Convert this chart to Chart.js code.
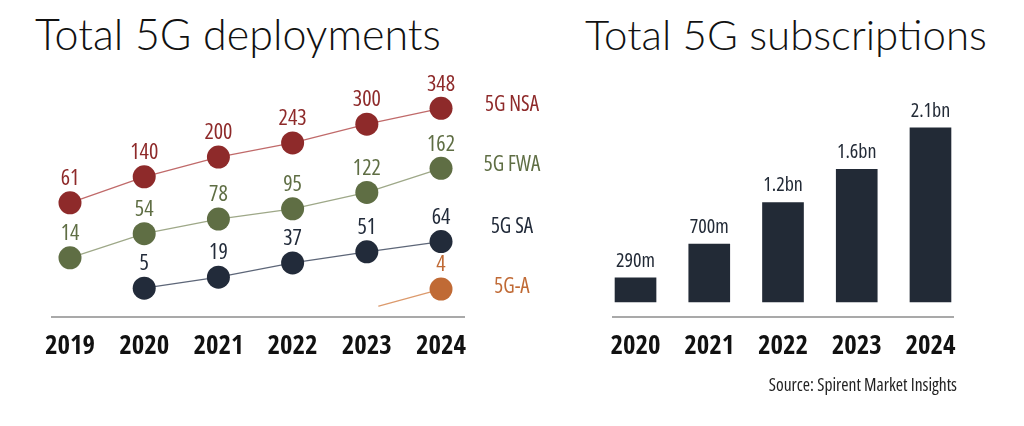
<!DOCTYPE html>
<html>
<head>
<meta charset="utf-8">
<script src="https://cdn.jsdelivr.net/npm/chart.js@4.4.0/dist/chart.umd.min.js"></script>
<style>
  body { margin: 0; background: #fff; width: 1024px; height: 426px; overflow: hidden; position: relative; }
  .title { position: absolute; top: 13px; font-family: Lato, "Open Sans", sans-serif; font-weight: 300;
           font-size: 42px; line-height: 42px; color: #111; white-space: nowrap; }
  .box { position: absolute; top: 0; width: 512px; height: 400px; }
  .tag { position: absolute; width: 80px; margin-left: -40px; text-align: center; line-height: 20px;
         font-family: "Open Sans", sans-serif; font-stretch: 75%; font-size: 21px; white-space: nowrap; }
  .src { position: absolute; right: 67px; top: 376px; font-size: 17.5px; line-height: 17px; color: #222;
         font-family: "Open Sans", sans-serif; font-stretch: 75%; white-space: nowrap; }
</style>
</head>
<body>
<div class="title" style="left:35px;font-size:43px">Total 5G deployments</div>
<div class="title" style="left:585px">Total 5G subscriptions</div>
<div class="box" style="left:0"><canvas id="deploy"></canvas></div>
<div class="box" style="left:512px"><canvas id="subs"></canvas></div>
<div class="tag" style="left:512px;top:93px;color:#8e2a2a">5G NSA</div>
<div class="tag" style="left:512px;top:153px;color:#5f6e44">5G FWA</div>
<div class="tag" style="left:512px;top:215px;color:#222b3a">5G SA</div>
<div class="tag" style="left:512px;top:275px;color:#c06a35">5G-A</div>
<div class="src">Source: Spirent Market Insights</div>
<script>
// deployments per year
var years = [2019, 2020, 2021, 2022, 2023, 2024];
var nsa = [61, 140, 200, 243, 300, 348];
var fwa = [14, 54, 78, 95, 122, 162];
var sa = [null, 5, 19, 37, 51, 64];
var adv = [null, null, null, null, 0, 4];

// subscriptions (millions)
var subYears = [2020, 2021, 2022, 2023, 2024];
var subs = [290, 700, 1200, 1600, 2100];
var subLabels = ['290m', '700m', '1.2bn', '1.6bn', '2.1bn'];

var boldNarrow = "'Open Sans Condensed', 'Roboto Condensed', 'DejaVu Sans Condensed', sans-serif";
var labelFont = "condensed 22px 'Open Sans', sans-serif";

function pts(xs, ys) {
    return xs.map(function (x, i) { return { x: x, y: ys[i] }; });
}

// axis line drawn on top of the marks
var axisLine = {
    id: 'axisLine',
    afterDatasetsDraw: function (chart) {
        var a = chart.chartArea, c = chart.ctx;
        c.save();
        c.strokeStyle = '#8c8c8c';
        c.lineWidth = 1.5;
        c.beginPath();
        c.moveTo(a.left, a.bottom);
        c.lineTo(a.right, a.bottom);
        c.stroke();
        c.restore();
    }
};

var pointLabels = {
    id: 'pointLabels',
    afterDatasetsDraw: function (chart) {
        var c = chart.ctx;
        c.save();
        c.font = labelFont;
        c.textAlign = 'center';
        c.textBaseline = 'middle';
        chart.data.datasets.forEach(function (ds, di) {
            var meta = chart.getDatasetMeta(di);
            meta.data.forEach(function (el, i) {
                var v = ds.data[i].y;
                if (v === null || v === 0) return;
                c.fillStyle = ds.labelColor;
                c.fillText(v, el.x, el.y - 24);
            });
        });
        c.restore();
    }
};

function series(data, axis, color, lineColor) {
    return {
        data: pts(years, data),
        yAxisID: axis,
        borderColor: lineColor,
        borderWidth: 1.3,
        pointRadius: 11.5,
        pointHoverRadius: 11.5,
        pointBackgroundColor: color,
        pointBorderColor: color,
        pointBorderWidth: 0,
        labelColor: color,
        tension: 0
    };
}

var a5 = series(adv, 'yAdv', '#c06a35', '#dc9a6c');
a5.pointRadius = [0, 0, 0, 0, 12, 11.5];
a5.pointBackgroundColor = ['#fff', '#fff', '#fff', '#fff', '#fff', '#c06a35'];
a5.pointBorderColor = a5.pointBackgroundColor;

var xAxis = function (min, max) {
    return {
        type: 'linear', min: min, max: max, offset: false,
        grid: { display: false, drawTicks: false, offset: false },
        border: { display: false },
        afterFit: function (scale) { scale.height = 50; },
        ticks: {
            stepSize: 1, includeBounds: false, autoSkip: false, maxRotation: 0, padding: 14,
            color: '#111', font: { family: boldNarrow, size: 27, weight: 'bold' },
            callback: function (v) { return String(v); }
        }
    };
};

new Chart(document.getElementById('deploy'), {
    type: 'line',
    data: {
        datasets: [
            series(nsa, 'yNsa', '#8e2a2a', '#c06a6a'),
            series(fwa, 'yFwa', '#5f6e44', '#9ea888'),
            series(sa, 'ySa', '#222b3a', '#5d6678'),
            a5
        ]
    },
    options: {
        responsive: true,
        maintainAspectRatio: false,
        animation: false,
        layout: { padding: { top: 60, left: 51, right: 47, bottom: 33 } },
        plugins: { legend: { display: false }, tooltip: { enabled: false } },
        scales: {
            x: xAxis(2018.744, 2024.323),
            yNsa: { display: false, min: -286, max: 495 },
            yFwa: { display: false, min: -83.8, max: 341 },
            ySa: { display: false, min: -31.5, max: 294 },
            yAdv: { display: false, min: -1.5, max: 49.2 }
        }
    },
    plugins: [axisLine, pointLabels]
});

new Chart(document.getElementById('subs'), {
    type: 'bar',
    data: {
        datasets: [{
            data: pts(subYears, subs),
            backgroundColor: '#222a36',
            barThickness: 41
        }]
    },
    options: {
        responsive: true,
        maintainAspectRatio: false,
        animation: false,
        layout: { padding: { top: 90, left: 100, right: 70, bottom: 33 } },
        plugins: { legend: { display: false }, tooltip: { enabled: false } },
        scales: {
            x: xAxis(2019.681, 2024.319),
            y: { display: false, min: -181, max: 2557 }
        }
    },
    plugins: [axisLine, {
        id: 'barLabels',
        afterDatasetsDraw: function (chart) {
            var c = chart.ctx;
            c.save();
            c.font = labelFont.replace('22px', '20px');
            c.fillStyle = '#222a36';
            c.textAlign = 'center';
            c.textBaseline = 'middle';
            chart.getDatasetMeta(0).data.forEach(function (el, i) {
                c.fillText(subLabels[i], el.x, el.y - 17);
            });
            c.restore();
        }
    }]
});
</script>
</body>
</html>
